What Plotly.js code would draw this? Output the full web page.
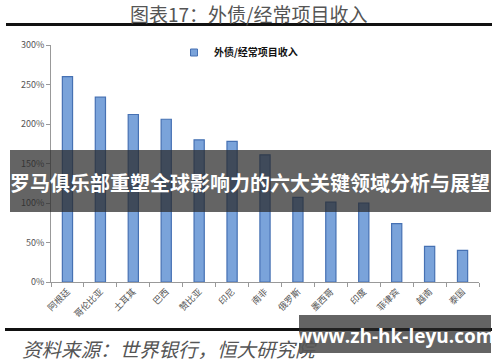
<!DOCTYPE html>
<html><head><meta charset="utf-8">
<script src="https://cdn.plot.ly/plotly-3.0.1.min.js"></script>
<style>html,body{margin:0;padding:0;background:#fff;}#chart{width:500px;height:362px;}</style>
</head><body><div id="chart"></div>
<script>
const categories = ['阿根廷','哥伦比亚','土耳其','巴西','赞比亚','印尼','南非','俄罗斯','墨西哥','印度','菲律宾','越南','泰国'];
const debtRatio = [260, 234, 212, 206, 180, 178, 161, 107, 101, 100, 74, 45, 40];
const seriesName = '外债/经常项目收入';
const yTicks = [0, 50, 100, 150, 200, 250, 300];

const W = 500, H = 362;
const M = {l: 51, r: 21, t: 45, b: 80};
const pw = W - M.l - M.r, ph = H - M.t - M.b;
const px = x => (x - M.l) / pw;
const py = y => (H - M.b - y) / ph;
const cjk = '"Noto Sans CJK SC", "Noto Sans", sans-serif';

const barColor = '#7aa3da';
const trace = {
  type: 'bar', x: categories, y: debtRatio, name: seriesName,
  marker: {color: barColor, line: {color: '#4671b3', width: 1.2}},
  showlegend: false
};
const legendTrace = {
  type: 'scatter', mode: 'markers', x: [null], y: [null], name: '<b>' + seriesName + '</b>',
  marker: {symbol: 'square', size: 7, color: barColor, line: {color: '#4671b3', width: 1}},
  showlegend: true
};

const layout = {
  width: W, height: H, margin: M,
  paper_bgcolor: '#fff', plot_bgcolor: '#fff',
  bargap: 0.69,
  font: {family: cjk, color: '#444'},
  showlegend: true,
  legend: {x: px(174), y: py(38), xanchor: 'left', yanchor: 'top', orientation: 'h',
           font: {size: 10, color: '#111', family: cjk},
           bgcolor: 'rgba(0,0,0,0)', itemwidth: 30},
  xaxis: {type: 'category', tickangle: -45, tickfont: {size: 9, color: '#555'},
          showline: true, linecolor: '#999', linewidth: 1, ticks: 'outside', ticklen: 4,
          tickcolor: '#999', tickson: 'boundaries', showgrid: false, fixedrange: true},
  yaxis: {range: [0, 300], tickvals: yTicks, ticktext: yTicks.map(v => v + '%'),
          tickfont: {size: 9, color: '#555'}, showline: true, linecolor: '#999', linewidth: 1,
          ticks: 'outside', ticklen: 4, tickcolor: '#999', showgrid: false, zeroline: false},
  shapes: [
    {type: 'line', xref: 'paper', yref: 'paper', x0: px(6), x1: px(492), y0: py(24.5), y1: py(24.5),
     line: {color: '#111', width: 3}},
    {type: 'line', xref: 'paper', yref: 'paper', x0: px(5), x1: px(492), y0: py(329.5), y1: py(329.5),
     line: {color: '#111', width: 3}},
    {type: 'rect', xref: 'paper', yref: 'paper', layer: 'above', x0: px(10), x1: px(491), y0: py(212), y1: py(150),
     fillcolor: 'rgba(40,40,40,0.72)', line: {width: 0}},
    {type: 'rect', xref: 'paper', yref: 'paper', layer: 'above', x0: px(299), x1: px(491), y0: py(353), y1: py(315),
     fillcolor: 'rgba(40,40,40,0.72)', line: {width: 0}}
  ],
  annotations: [
    {xref: 'paper', yref: 'paper', x: px(249), y: py(13), xanchor: 'center', yanchor: 'middle', showarrow: false,
     text: '图表17：外债/经常项目收入', font: {size: 19, color: '#555', family: cjk}},
    {xref: 'paper', yref: 'paper', x: px(20), y: py(348), xanchor: 'left', yanchor: 'middle', showarrow: false,
     text: '<i>资料来源：世界银行，恒大研究院</i>', font: {size: 19.5, color: '#555', family: cjk}},
    {xref: 'paper', yref: 'paper', x: px(250), y: py(182), xanchor: 'center', yanchor: 'middle', showarrow: false,
     text: '<b>罗马俱乐部重塑全球影响力的六大关键领域分析与展望</b>', font: {size: 20, color: '#fff', family: cjk}},
    {xref: 'paper', yref: 'paper', x: px(395), y: py(336), xanchor: 'center', yanchor: 'middle', showarrow: false,
     text: '<b>www.zh-hk-leyu.com</b>', font: {size: 19, color: '#fff', family: '"Open Sans", "DejaVu Sans", sans-serif'}}
  ]
};

Plotly.newPlot('chart', [trace, legendTrace], layout, {displayModeBar: false, staticPlot: true});
</script>
</body></html>
